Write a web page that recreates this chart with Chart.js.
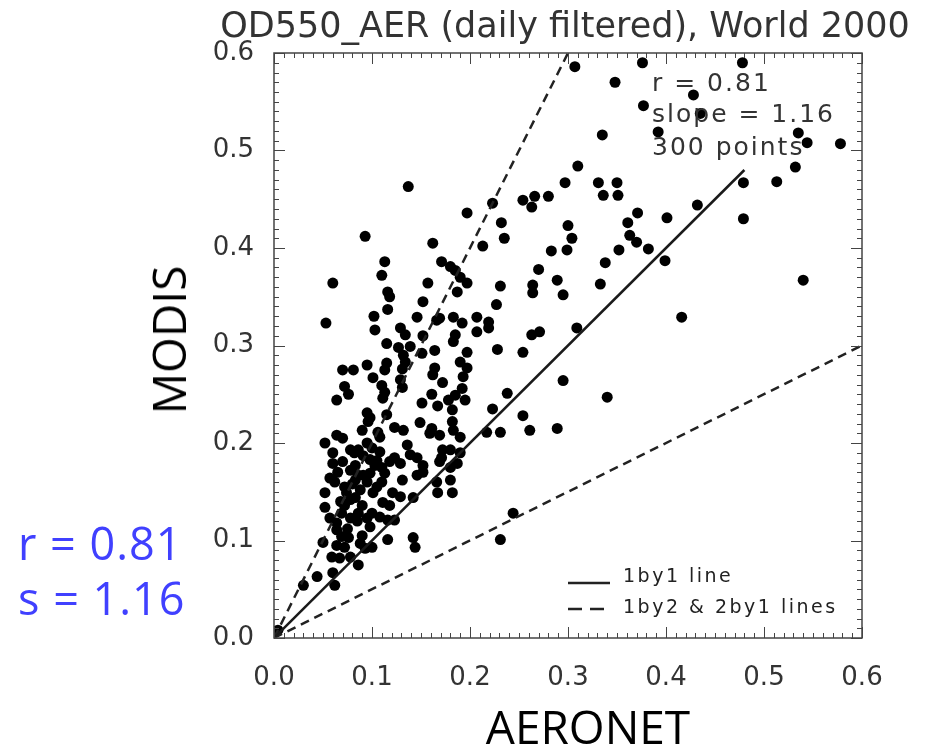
<!DOCTYPE html>
<html>
<head>
<meta charset="utf-8">
<title>OD550_AER MODIS vs AERONET</title>
<script src="https://cdn.jsdelivr.net/npm/chart.js@4.4.1/dist/chart.umd.min.js"></script>
<style>
  body { margin: 0; background: #fff; }
  #wrap { position: relative; width: 925px; height: 751px; }
  #chart { position: absolute; left: 0; top: 0; }
  .note { position: absolute; font-family: "Open Sans", sans-serif; white-space: nowrap; line-height: 1; }
  #modis { left: 168px; top: 340px; transform: translate(-50%, -50%) rotate(-90deg); font-size: 46px; color: #000; }
  #aeronet { left: 588px; top: 726px; transform: translate(-50%, -50%); font-size: 46px; color: #000; }
  .blue { left: 18px; font-size: 45px; letter-spacing: 1px; color: #4040ff; transform: translate(0, -50%); }
  #rval { top: 542px; }
  #sval { top: 597px; }
</style>
</head>
<body>
<div id="wrap">
  <canvas id="chart" width="925" height="751"></canvas>
  <div class="note" id="modis">MODIS</div>
  <div class="note" id="aeronet">AERONET</div>
  <div class="note blue" id="rval">r = 0.81</div>
  <div class="note blue" id="sval">s = 1.16</div>
</div>
<script>
// daily AOD pairs: AERONET (x) and MODIS (y)
var aeronet = [
  0.307, 0.376, 0.478, 0.348, 0.428, 0.377, 0.435, 0.335, 0.392, 0.535,
  0.544, 0.578, 0.310, 0.532, 0.297, 0.331, 0.350, 0.336, 0.351, 0.479,
  0.513, 0.432, 0.371, 0.401, 0.479, 0.361, 0.300, 0.304, 0.363, 0.370,
  0.382, 0.299, 0.352, 0.399, 0.338, 0.333, 0.295, 0.540, 0.416, 0.309,
  0.295, 0.340, 0.254, 0.266, 0.263, 0.280, 0.197, 0.223, 0.232, 0.235,
  0.213, 0.283, 0.270, 0.289, 0.264, 0.264, 0.231, 0.227, 0.171, 0.180,
  0.185, 0.190, 0.197, 0.187, 0.169, 0.183, 0.192, 0.207, 0.219, 0.219,
  0.207, 0.185, 0.183, 0.197, 0.228, 0.254, 0.263, 0.271, 0.137, 0.093,
  0.162, 0.113, 0.110, 0.060, 0.157, 0.116, 0.118, 0.152, 0.116, 0.102,
  0.146, 0.166, 0.053, 0.103, 0.129, 0.134, 0.152, 0.115, 0.127, 0.139,
  0.151, 0.164, 0.132, 0.134, 0.131, 0.129, 0.070, 0.081, 0.095, 0.115,
  0.113, 0.190, 0.197, 0.164, 0.162, 0.193, 0.072, 0.076, 0.101, 0.110,
  0.113, 0.131, 0.172, 0.192, 0.185, 0.195, 0.064, 0.111, 0.161, 0.151,
  0.167, 0.178, 0.182, 0.238, 0.223, 0.254, 0.095, 0.098, 0.096, 0.115,
  0.149, 0.161, 0.159, 0.182, 0.183, 0.064, 0.070, 0.090, 0.106, 0.108,
  0.123, 0.132, 0.169, 0.190, 0.231, 0.289, 0.217, 0.261, 0.052, 0.078,
  0.086, 0.091, 0.100, 0.108, 0.118, 0.123, 0.136, 0.139, 0.146, 0.152,
  0.172, 0.171, 0.180, 0.190, 0.060, 0.070, 0.083, 0.098, 0.103, 0.129,
  0.169, 0.187, 0.057, 0.062, 0.078, 0.086, 0.083, 0.091, 0.098, 0.110,
  0.113, 0.131, 0.146, 0.152, 0.180, 0.166, 0.180, 0.167, 0.182, 0.052,
  0.052, 0.074, 0.078, 0.083, 0.072, 0.088, 0.090, 0.101, 0.111, 0.118,
  0.121, 0.129, 0.142, 0.057, 0.064, 0.069, 0.078, 0.086, 0.095, 0.098,
  0.108, 0.116, 0.123, 0.050, 0.064, 0.069, 0.076, 0.064, 0.072, 0.088,
  0.093, 0.100, 0.116, 0.142, 0.144, 0.059, 0.067, 0.078, 0.086, 0.060,
  0.062, 0.044, 0.030, 0.244, 0.231, 0.004, 0.065, 0.072, 0.080, 0.095,
  0.105, 0.068, 0.085, 0.100, 0.075, 0.090, 0.082, 0.095, 0.105, 0.060,
  0.110
];
var modis = [
  0.586, 0.590, 0.590, 0.570, 0.557, 0.546, 0.538, 0.516, 0.519, 0.518,
  0.508, 0.507, 0.484, 0.483, 0.467, 0.467, 0.467, 0.454, 0.454, 0.467,
  0.468, 0.444, 0.436, 0.431, 0.430, 0.426, 0.423, 0.410, 0.413, 0.406,
  0.399, 0.398, 0.398, 0.387, 0.385, 0.363, 0.352, 0.367, 0.329, 0.318,
  0.264, 0.247, 0.449, 0.453, 0.442, 0.453, 0.436, 0.446, 0.426, 0.410,
  0.402, 0.397, 0.378, 0.367, 0.362, 0.354, 0.361, 0.342, 0.386, 0.381,
  0.377, 0.370, 0.364, 0.355, 0.328, 0.329, 0.323, 0.329, 0.324, 0.318,
  0.314, 0.311, 0.304, 0.293, 0.296, 0.293, 0.311, 0.314, 0.463, 0.412,
  0.405, 0.386, 0.372, 0.364, 0.364, 0.355, 0.350, 0.345, 0.337, 0.330,
  0.329, 0.326, 0.323, 0.316, 0.318, 0.311, 0.310, 0.302, 0.298, 0.299,
  0.292, 0.295, 0.290, 0.283, 0.276, 0.265, 0.275, 0.275, 0.280, 0.282,
  0.275, 0.283, 0.277, 0.277, 0.270, 0.268, 0.258, 0.250, 0.267, 0.259,
  0.252, 0.257, 0.262, 0.256, 0.249, 0.244, 0.244, 0.246, 0.250, 0.241,
  0.238, 0.244, 0.234, 0.251, 0.235, 0.228, 0.231, 0.226, 0.222, 0.229,
  0.221, 0.215, 0.210, 0.222, 0.213, 0.208, 0.205, 0.213, 0.211, 0.206,
  0.216, 0.213, 0.208, 0.206, 0.211, 0.215, 0.211, 0.213, 0.200, 0.193,
  0.193, 0.187, 0.195, 0.191, 0.181, 0.185, 0.198, 0.188, 0.185, 0.177,
  0.193, 0.185, 0.193, 0.190, 0.179, 0.181, 0.177, 0.183, 0.177, 0.179,
  0.181, 0.179, 0.164, 0.160, 0.172, 0.167, 0.162, 0.167, 0.169, 0.175,
  0.169, 0.162, 0.167, 0.170, 0.175, 0.160, 0.162, 0.149, 0.149, 0.149,
  0.134, 0.149, 0.142, 0.144, 0.136, 0.152, 0.136, 0.149, 0.139, 0.136,
  0.149, 0.145, 0.144, 0.123, 0.118, 0.128, 0.123, 0.128, 0.123, 0.114,
  0.124, 0.121, 0.121, 0.098, 0.111, 0.104, 0.103, 0.095, 0.093, 0.097,
  0.092, 0.093, 0.101, 0.103, 0.093, 0.083, 0.082, 0.083, 0.075, 0.067,
  0.054, 0.063, 0.054, 0.128, 0.101, 0.008, 0.170, 0.155, 0.158, 0.160,
  0.155, 0.140, 0.120, 0.128, 0.112, 0.105, 0.190, 0.200, 0.182, 0.190,
  0.160
];

// reference lines
var oneByOneX = [0, 0.48];
var oneByOneY = [0, 0.48];
var oneByTwoX = [0, 0.3];
var oneByTwoY = [0, 0.6];
var twoByOneX = [0, 0.6];
var twoByOneY = [0, 0.3];

var tickValues = [0, 0.1, 0.2, 0.3, 0.4, 0.5, 0.6];
var chartTitle = 'OD550_AER (daily filtered), World 2000';
var statsText = ['r = 0.81', 'slope = 1.16', '300 points'];
var legendText = ['1by1 line', '1by2 & 2by1 lines'];

function toPoints(xs, ys) {
  var pts = [];
  for (var i = 0; i < xs.length; i++) {
    pts.push({ x: xs[i], y: ys[i] });
  }
  return pts;
}

/* frame with IDL style inward ticks, title, stats and inner legend */
var idlFrame = {
  id: 'idlFrame',
  afterDatasetsDraw: function (chart) {
    var c = chart.ctx;
    var a = chart.chartArea;
    var xs = chart.scales.x, ys = chart.scales.y;
    c.save();
    c.strokeStyle = '#444';
    c.lineWidth = 1;
    c.beginPath();
    for (var i = 0; i <= 60; i++) {
      var v = i / 100;
      var len = (i % 10 === 0) ? 11 : 5;
      var px = Math.round(xs.getPixelForValue(v)) + 0.5;
      c.moveTo(px, a.bottom); c.lineTo(px, a.bottom - len);
      c.moveTo(px, a.top); c.lineTo(px, a.top + len);
      var py = Math.round(ys.getPixelForValue(v)) + 0.5;
      c.moveTo(a.left, py); c.lineTo(a.left + len, py);
      c.moveTo(a.right, py); c.lineTo(a.right - len, py);
    }
    c.stroke();
    c.lineWidth = 1.5;
    c.strokeRect(a.left, a.top, a.right - a.left, a.bottom - a.top);

    // stats block
    c.fillStyle = '#333';
    c.font = '25px "DejaVu Sans"';
    c.letterSpacing = '2px';
    c.textAlign = 'left';
    c.textBaseline = 'alphabetic';
    c.fillText(statsText[0], 652, 91);
    c.fillText(statsText[1], 652, 122);
    c.fillText(statsText[2], 652, 155);

    // legend
    c.strokeStyle = '#222';
    c.lineWidth = 2.5;
    c.beginPath();
    c.moveTo(568, 583); c.lineTo(610, 583);
    c.stroke();
    c.setLineDash([14, 8]);
    c.beginPath();
    c.moveTo(568, 609); c.lineTo(604, 609);
    c.stroke();
    c.setLineDash([]);
    c.font = '19px "DejaVu Sans"';
    c.letterSpacing = '2.5px';
    c.textBaseline = 'middle';
    c.fillStyle = '#222';
    c.fillText(legendText[0], 623, 577);
    c.fillText(legendText[1], 623, 608);

    // title
    c.letterSpacing = '0px';
    c.font = '35px "DejaVu Sans"';
    c.textAlign = 'center';
    c.textBaseline = 'alphabetic';
    c.fillStyle = '#333';
    c.fillText(chartTitle, 565, 37);
    c.restore();
  }
};

var ctx = document.getElementById('chart').getContext('2d');
var chart = new Chart(ctx, {
  type: 'scatter',
  data: {
    datasets: [
      {
        label: legendText[0],
        data: toPoints(oneByOneX, oneByOneY),
        showLine: true,
        borderColor: '#1a1a1a',
        borderWidth: 2.5,
        pointRadius: 0,
        order: 0
      },
      {
        label: '1by2 line',
        data: toPoints(oneByTwoX, oneByTwoY),
        showLine: true,
        borderColor: '#222',
        borderWidth: 2.5,
        borderDash: [9, 6],
        pointRadius: 0,
        order: 0
      },
      {
        label: '2by1 line',
        data: toPoints(twoByOneX, twoByOneY),
        showLine: true,
        borderColor: '#222',
        borderWidth: 2.5,
        borderDash: [9, 6],
        pointRadius: 0,
        order: 0
      },
      {
        label: 'MODIS vs AERONET',
        data: toPoints(aeronet, modis),
        backgroundColor: '#000',
        borderWidth: 0,
        pointRadius: 5.5,
        order: 1
      }
    ]
  },
  options: {
    responsive: false,
    animation: false,
    events: [],
    layout: { padding: { left: 0, right: 63, top: 53, bottom: 0 } },
    plugins: {
      legend: { display: false },
      title: { display: false },
      tooltip: { enabled: false }
    },
    scales: {
      x: {
        type: 'linear',
        min: 0,
        max: 0.6,
        afterFit: function (s) { s.height = 751 - 638; },
        afterBuildTicks: function (s) { s.ticks = tickValues.map(function (v) { return { value: v }; }); },
        ticks: {
          callback: function (v) { return v.toFixed(1); },
          font: { family: 'DejaVu Sans', size: 26 },
          color: '#333',
          padding: 17,
          maxRotation: 0
        },
        grid: { display: false },
        border: { display: false }
      },
      y: {
        type: 'linear',
        min: 0,
        max: 0.6,
        afterFit: function (s) { s.width = 274; },
        afterBuildTicks: function (s) { s.ticks = tickValues.map(function (v) { return { value: v }; }); },
        ticks: {
          callback: function (v) { return v.toFixed(1); },
          font: { family: 'DejaVu Sans', size: 26 },
          color: '#333',
          padding: 12
        },
        grid: { display: false },
        border: { display: false }
      }
    }
  },
  plugins: [idlFrame]
});
</script>
</body>
</html>
